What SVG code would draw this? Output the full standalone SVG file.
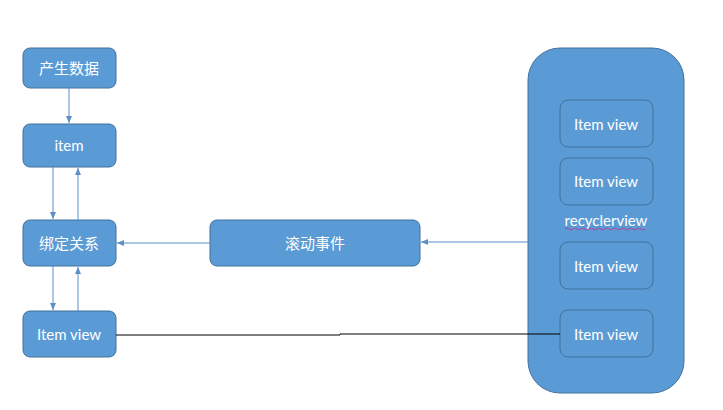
<svg xmlns="http://www.w3.org/2000/svg" width="723" height="410" viewBox="0 0 723 410">
<defs>
<marker id="a" markerWidth="8" markerHeight="8" refX="7" refY="4" orient="auto" markerUnits="userSpaceOnUse"><path d="M0,1 L7,4 L0,7 Z" fill="#5b8fc7"/></marker>
</defs>
<style>
.n{fill:#5b9bd5;stroke:#41719c;stroke-width:1}
.t{fill:#fff;font-family:Lato,"Noto Sans CJK SC",sans-serif;font-size:15px;text-anchor:middle;dominant-baseline:central}
.c{stroke:#5b8fc7;stroke-width:1;fill:none;marker-end:url(#a)}
</style>
<rect width="723" height="410" fill="#fff"/>
<g id="recyclerview"><rect class="n" x="528" y="48" width="156" height="345" rx="32"/><text class="t" x="606" y="220">recyclerview</text><path d="M565,229 q2,-2 4,0 t4,0 t4,0 t4,0 t4,0 t4,0 t4,0 t4,0 t4,0 t4,0 t4,0 t4,0 t4,0 t4,0 t4,0 t4,0 t4,0 t4,0 t4,0 t4,0" stroke="#c03090" stroke-width="0.8" fill="none"/></g>
<g id="iv1"><rect class="n" x="560" y="100" width="93" height="47" rx="8"/><text class="t" x="606" y="124">Item view</text></g>
<g id="iv2"><rect class="n" x="560" y="158" width="93" height="47" rx="8"/><text class="t" x="606" y="181">Item view</text></g>
<g id="iv3"><rect class="n" x="560" y="242" width="93" height="47" rx="8"/><text class="t" x="606" y="266">Item view</text></g>
<g id="iv4"><rect class="n" x="560" y="310" width="93" height="47" rx="8"/><text class="t" x="606" y="334">Item view</text></g>
<g id="gen"><rect class="n" x="23" y="48" width="93" height="40" rx="7"/><text class="t" x="69" y="68">产生数据</text></g>
<g id="item"><rect class="n" x="23" y="124" width="93" height="43" rx="7"/><text class="t" x="69" y="145">item</text></g>
<g id="bind"><rect class="n" x="23" y="220" width="93" height="46" rx="7"/><text class="t" x="69" y="243">绑定关系</text></g>
<g id="itemview"><rect class="n" x="23" y="311" width="93" height="46" rx="7"/><text class="t" x="69" y="334">Item view</text></g>
<g id="scroll"><rect class="n" x="210" y="220" width="210" height="46" rx="7"/><text class="t" x="315" y="243">滚动事件</text></g>
<g id="connectors">
<path class="c" d="M69,88 V123"/>
<path class="c" d="M53,167 V219"/>
<path class="c" d="M78,220 V168"/>
<path class="c" d="M53,266 V310"/>
<path class="c" d="M78,311 V267"/>
<path class="c" d="M210,243 H117"/>
<path class="c" d="M528,242 H421"/>
<path d="M116,335 H340 V334 H560" stroke="#000" stroke-width="1" fill="none"/>
</g>
</svg>
